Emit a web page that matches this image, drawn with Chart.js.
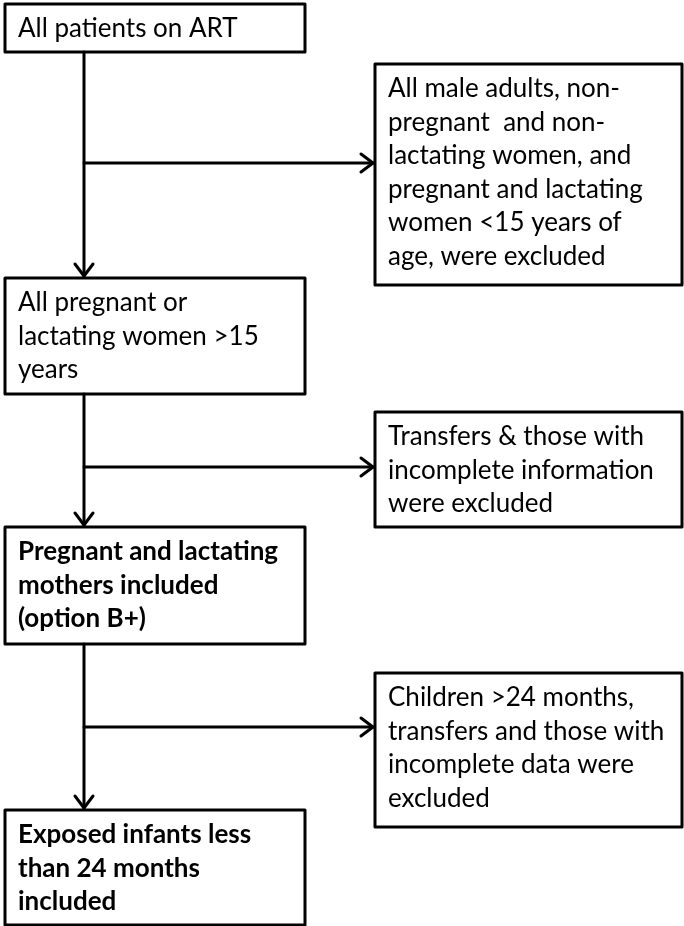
<!DOCTYPE html>
<html>
<head>
<meta charset="utf-8">
<script src="https://cdn.jsdelivr.net/npm/chart.js@4"></script>
<style>
  html, body { margin: 0; padding: 0; background: #fff; }
  #wrap { width: 684px; height: 926px; }
</style>
</head>
<body>
<div id="wrap"><canvas id="flow" width="684" height="926"></canvas></div>
<script>
// Flow steps (left column) and exclusions (right column)
const mainSteps = [
    ['All patients on ART'],
    ['All pregnant or', 'lactating women >15', 'years'],
    ['Pregnant and lactating', 'mothers included', '(option B+)'],
    ['Exposed infants less', 'than 24 months', 'included']
];
const mainBold = [false, false, true, true];
const exclusions = [
    ['All male adults, non-', 'pregnant  and non-', 'lactating women, and', 'pregnant and lactating', 'women <15 years of', 'age, were excluded'],
    ['Transfers & those with', 'incomplete information', 'were excluded'],
    ['Children >24 months,', 'transfers and those with', 'incomplete data were', 'excluded']
];

// layout in scale units (same as page pixels)
const layout = {
    left: { x0: 5, x1: 305, textX: 18, boxes: [[4, 52], [278, 394], [527, 644], [810, 925]] },
    right: { x0: 375, x1: 682, textX: 388, boxes: [[64, 285], [412, 527], [673, 827]] },
    spineX: 84,
    branchY: [163, 467, 727],
    lineGap: 33.5,
    firstLine: 25
};

function arrowHead(ctx, x, y, dir) {
    // open chevron pointing in dir ('down' or 'right')
    const len = 12, half = 9;
    ctx.beginPath();
    if (dir === 'down') {
        ctx.moveTo(x - half, y - len);
        ctx.lineTo(x, y);
        ctx.lineTo(x + half, y - len);
    } else {
        ctx.moveTo(x - len, y - half);
        ctx.lineTo(x, y);
        ctx.lineTo(x - len, y + half);
    }
    ctx.stroke();
}

const flowPlugin = {
    id: 'flow',
    afterDraw(chart) {
        const ctx = chart.ctx;
        const sx = chart.scales.x, sy = chart.scales.y;
        const px = v => sx.getPixelForValue(v);
        const py = v => sy.getPixelForValue(v);

        ctx.save();
        ctx.strokeStyle = '#000';
        ctx.fillStyle = '#000';
        ctx.lineWidth = 3;
        ctx.lineCap = 'round';
        ctx.lineJoin = 'round';
        ctx.textBaseline = 'middle';
        ctx.textAlign = 'left';

        const drawBox = (col, box, lines, bold) => {
            const x0 = px(col.x0), x1 = px(col.x1);
            const y0 = py(box[0]), y1 = py(box[1]);
            ctx.strokeRect(x0, y0, x1 - x0, y1 - y0);
            ctx.font = (bold ? 'bold ' : '') + '26px Lato, "Open Sans", sans-serif';
            lines.forEach((t, i) => {
                ctx.fillText(t, px(col.textX), py(box[0] + layout.firstLine + i * layout.lineGap));
            });
        };

        mainSteps.forEach((lines, i) => drawBox(layout.left, layout.left.boxes[i], lines, mainBold[i]));
        exclusions.forEach((lines, i) => drawBox(layout.right, layout.right.boxes[i], lines, false));

        // spine segments with arrows into the next step
        const sp = px(layout.spineX);
        for (let i = 0; i < mainSteps.length - 1; i++) {
            const from = py(layout.left.boxes[i][1]);
            const to = py(layout.left.boxes[i + 1][0]) - 2;
            ctx.beginPath();
            ctx.moveTo(sp, from);
            ctx.lineTo(sp, to);
            ctx.stroke();
            arrowHead(ctx, sp, to, 'down');
        }

        // branches to exclusion boxes
        layout.branchY.forEach(y => {
            const yy = py(y);
            const tip = px(layout.right.x0) - 2;
            ctx.beginPath();
            ctx.moveTo(sp, yy);
            ctx.lineTo(tip, yy);
            ctx.stroke();
            arrowHead(ctx, tip, yy, 'right');
        });
        ctx.restore();
    }
};

new Chart(document.getElementById('flow'), {
    type: 'scatter',
    data: { datasets: [{ data: [], pointRadius: 0 }] },
    options: {
        responsive: false,
        animation: false,
        layout: { padding: 0 },
        plugins: { legend: { display: false }, tooltip: { enabled: false } },
        scales: {
            x: { type: 'linear', min: 0, max: 684, display: false },
            y: { type: 'linear', min: 0, max: 926, reverse: true, display: false }
        }
    },
    plugins: [flowPlugin]
});
</script>
</body>
</html>
